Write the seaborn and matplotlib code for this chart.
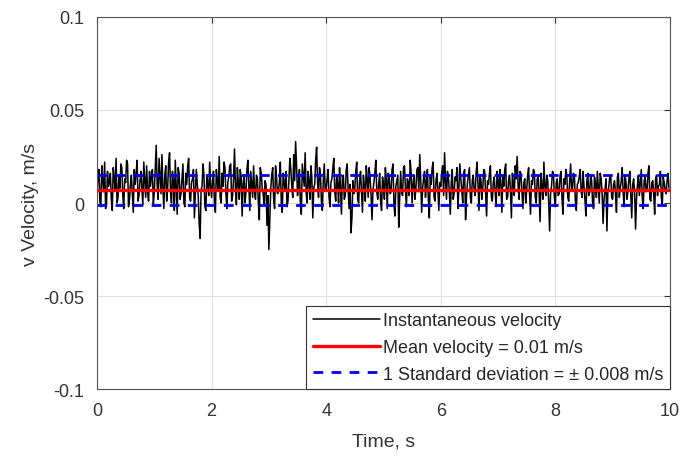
import numpy as np
import pandas as pd
import matplotlib
matplotlib.use('Agg')
import matplotlib.pyplot as plt
import seaborn as sns

# velocity samples, in mm/s (one row per second)
v_even = [
    5, 18, -2, 12, 22, 0, 9, 16, -4, 14, 24, 3, 8, 19, -3, 11, 21, 2, 15, -5, 10, 23, 4, 17, -1, 13, 20, 1, 9, 18,
    6, 31, 2, 14, 26, -3, 20, 8, 27, 0, 12, 23, -6, 16, 5, 21, -2, 10, 24, 1, 13, -8, 18, 4, -19, 9, 15, -4, 11, 22,
    3, 17, -5, 12, 25, 0, 9, 19, -3, 14, 21, 4, 29, -1, 11, 18, -7, 15, 6, 23, -4, 10, 20, 2, 13, -9, 16, 5, 12, -12,
    -25, 8, 19, -3, 14, 6, 22, -5, 11, 17, 1, 24, 9, 26, 33, 4, 18, -6, 15, 27, 0, 12, 20, -8, 10, 30, 3, 16, -4, 21,
    7, 18, -2, 13, 24, 1, 10, 19, -6, 15, 4, 21, -3, -16, 12, 8, 22, 0, 17, -5, 9, 20, 3, 14, -9, 11, 23, 2, 16, -4,
    10, 19, -3, 14, 6, 21, -7, 12, -13, 17, 4, 20, -2, 11, 23, 0, 15, 8, 19, 26, -5, 13, 3, 18, -8, 10, 22, 1, 16, -4,
    9, 20, 27, 2, 14, -6, 18, 5, 12, -3, 21, 7, 16, -9, 11, 19, 0, 15, 4, 22, -4, 13, 8, 17, -7, 10, 20, 1, 14, -2,
    12, 18, -5, 9, 21, 3, 15, -8, 11, 20, 25, 2, 16, -3, 13, 7, 19, -6, 10, 17, 0, 14, -10, 8, 22, 4, 12, -15, 9, 16,
    -2, 13, 5, 17, -6, 10, 15, 1, 21, 8, 14, -4, 11, 18, 3, 9, -7, 16, 6, 12, -3, 10, 17, 0, 13, -11, 7, -15, 9, 15,
    2, 12, -5, 16, 8, 19, -2, 11, 6, 17, -8, 13, -14, 10, 4, 18, -3, 14, 7, 20, 1, 12, -6, 15, 9, 17, -1, 11, 5, 16,
]
# in-between samples, same layout
v_odd = [
    14, 1, 20, 6, -3, 17, 11, 2, 19, 7, 0, 15, 21, 4, 13, 23, -2, 10, 5, 18, 16, 1, 12, 8, 22, 3, 6, 17, 14, -1,
    19, 10, 24, 5, 8, 15, 1, 22, 6, 17, -4, 9, 19, 2, 13, 0, 16, 20, 3, 11, 18, 5, 10, -11, 7, 21, -2, 14, 4, 9,
    12, 0, 18, 7, 3, 16, 22, 5, 11, 20, 1, 13, 8, 19, 2, 14, 10, 0, 18, 9, 17, 3, 6, 15, 0, 19, 8, -1, 10, 4,
    -8, 15, 2, 20, 5, 11, 0, 16, 7, -2, 13, 18, 3, 12, 20, 10, -1, 21, 9, 6, 17, 2, 14, 8, 23, 11, 19, 1, 12, 7,
    13, 3, 11, 19, 6, 15, 0, 8, 14, 2, 18, 7, 10, -8, 5, 17, 2, 12, 6, 15, 1, 13, 19, 4, 7, 16, 6, 10, 1, 14,
    2, 12, 16, 5, 18, -1, 9, 15, 3, 6, 19, 8, 13, 4, 16, 10, 2, 18, 6, 13, 8, 17, 11, 2, 14, 19, 3, 12, 7, 11,
    16, 4, 12, 17, 6, 11, 2, 14, 19, 8, 13, 0, 18, 4, 15, 3, 12, 7, 16, 10, 14, 2, 18, 5, 12, 16, 3, 11, 6, 17,
    4, 10, 14, 18, 2, 12, 7, 16, 4, 13, 9, 17, 6, 11, 0, 15, 5, 12, 18, 3, 13, 6, 16, 2, 9, 15, 1, 5, 17, 3,
    11, 4, 15, 2, 13, 18, 3, 12, 7, 16, 1, 10, 14, 6, 17, 2, 12, 4, 15, 0, 14, 3, 8, 16, 5, 2, 13, 6, 14, 3,
    10, 5, 14, 3, 12, 6, 15, 2, 13, 4, 10, 6, 2, 15, 11, 3, 12, 6, 16, 2, 11, 5, 13, 4, 10, 3, 14, 7, 12, 8,
]
duration = 10.0
mean_v = 0.007
std_v = 0.008
y_ticks = [-0.1, -0.05, 0, 0.05, 0.1]
y_tick_labels = ['-0.1', '-0.05', '0', '0.05', '0.1']
x_ticks = [0, 2, 4, 6, 8, 10]

v_mm = np.column_stack([v_even, v_odd]).ravel()
v = v_mm / 1000.0
t = np.arange(len(v)) * duration / len(v)
df = pd.DataFrame({'t': t, 'v': v})

sns.set_style('whitegrid')
plt.rcParams['font.family'] = ['Liberation Sans', 'DejaVu Sans']

fig = plt.figure(figsize=(6.85, 4.6), dpi=100)
ax = fig.add_axes([0.1416, 0.152, 0.8364, 0.809])

sns.lineplot(data=df, x='t', y='v', color='black', linewidth=1.1, ax=ax,
             label='Instantaneous velocity')
ax.axhline(mean_v, color='#ff0000', linewidth=2.4, label='Mean velocity = 0.01 m/s')
ax.axhline(mean_v + std_v, color='#0000ff', linewidth=2, linestyle=(0, (3.5, 3)),
           label='1 Standard deviation = \u00b1 0.008 m/s')
ax.axhline(mean_v - std_v, color='#0000ff', linewidth=2, linestyle=(0, (3.5, 3)))

ax.set_xlim(0, 10)
ax.set_ylim(-0.1, 0.1)
ax.set_xticks(x_ticks)
ax.set_xticklabels([str(x) for x in x_ticks])
ax.set_yticks(y_ticks)
ax.set_yticklabels(y_tick_labels)
ax.grid(True, color='#dedede', linewidth=0.8)
for s in ax.spines.values():
    s.set_color('#555555')
    s.set_linewidth(0.8)
ax.tick_params(axis='both', labelsize=13, colors='#333333', direction='in',
               length=4, top=True, right=True, pad=9)
ax.set_xlabel('Time, s', fontsize=14, color='#333333', labelpad=10)
ax.set_ylabel('v Velocity, m/s', fontsize=14, color='#333333', labelpad=3)

leg = ax.legend(loc='lower right', fontsize=13, frameon=True, fancybox=False,
                borderaxespad=0, handlelength=3.7, handletextpad=0.2,
                borderpad=0.35, labelspacing=0.55)
leg.get_frame().set_edgecolor('#333333')
leg.get_frame().set_linewidth(0.8)
leg.get_frame().set_alpha(1)

fig.savefig('out.png', dpi=100)
